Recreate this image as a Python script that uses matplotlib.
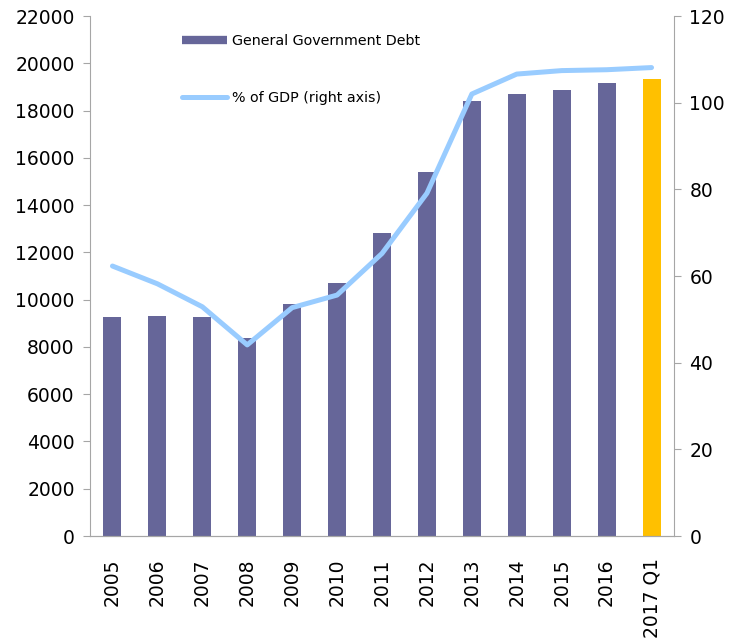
import matplotlib
matplotlib.use("Agg")
import matplotlib.pyplot as plt
from matplotlib.lines import Line2D

categories = ["2005", "2006", "2007", "2008", "2009", "2010", "2011", "2012",
              "2013", "2014", "2015", "2016", "2017 Q1"]
debt = [9250, 9310, 9250, 8360, 9810, 10715, 12800, 15380, 18415, 18710, 18870, 19150, 19320]
pct_gdp = [62.3, 58.2, 52.9, 44.1, 52.7, 55.6, 65.2, 79.1, 102.0, 106.6, 107.4, 107.6, 108.1]
left_ticks = list(range(0, 22001, 2000))
right_ticks = list(range(0, 121, 20))

bar_color = "#666699"
hl_color = "#FFC000"
line_color = "#99CCFF"
spine_color = "#A6A6A6"

plt.rcParams['font.family'] = ['DejaVu Sans']

fig = plt.figure(figsize=(7.43, 6.40), dpi=100)
ax = fig.add_axes([90/743, 1-536/640, (674-90)/743, (536-16)/640])
ax2 = ax.twinx()

x = list(range(len(categories)))
colors = [bar_color] * (len(categories) - 1) + [hl_color]
ax.bar(x, debt, width=0.4, color=colors, zorder=2)
ax2.plot(x, pct_gdp, color=line_color, lw=3.6, solid_capstyle='round', zorder=3)

ax.set_xlim(-0.5, len(categories) - 0.5)
ax.set_ylim(0, 22000)
ax2.set_ylim(0, 120)
ax.set_yticks(left_ticks)
ax2.set_yticks(right_ticks)
ax.set_xticks(x)
ax.set_xticklabels(categories, rotation=90, fontsize=13.5)
ax.tick_params(axis='x', length=0, pad=16)
ax.tick_params(axis='y', labelsize=13.5, length=5, color=spine_color, pad=6)
ax2.tick_params(axis='y', labelsize=13.5, length=5, color=spine_color, pad=6)

for a in (ax, ax2):
    a.spines['top'].set_visible(False)
    for s in ('left', 'right', 'bottom'):
        a.spines[s].set_color(spine_color)
ax.spines['right'].set_visible(False)
ax2.spines['left'].set_visible(False)

handles = [Line2D([0], [0], color=bar_color, lw=6, solid_capstyle='butt'),
           Line2D([0], [0], color=line_color, lw=3.6, solid_capstyle='round')]
leg = ax2.legend(handles, ["General Government Debt", "% of GDP (right axis)"],
                 loc='upper left', bbox_to_anchor=(0.135, 0.99), frameon=False,
                 fontsize=10.3, labelspacing=3.0, handlelength=3.2, handletextpad=0.35)

fig.savefig("out.png", dpi=100)
